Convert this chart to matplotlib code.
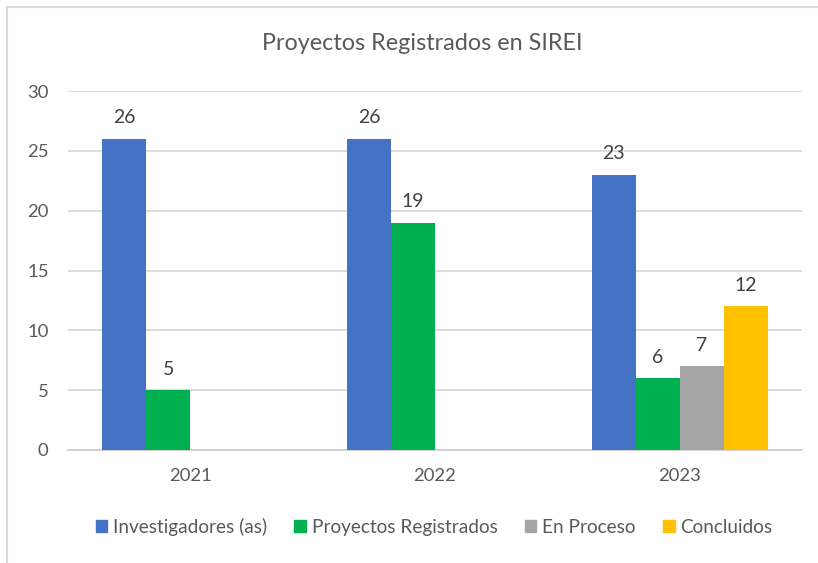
import numpy as np
import matplotlib
matplotlib.use("Agg")
import matplotlib.pyplot as plt
from matplotlib.patches import Rectangle
from matplotlib.lines import Line2D

plt.rcParams['font.family'] = ['Lato', 'DejaVu Sans']

categories = ["2021", "2022", "2023"]
series_names = ["Investigadores (as)", "Proyectos Registrados", "En Proceso", "Concluidos"]
investigadores = [26, 26, 23]
proyectos = [5, 19, 6]
en_proceso = [np.nan, np.nan, 7]
concluidos = [np.nan, np.nan, 12]
colors = ["#4472C4", "#00B050", "#A5A5A5", "#FFC000"]
yticks = [0, 5, 10, 15, 20, 25, 30]

data = [investigadores, proyectos, en_proceso, concluidos]

fig = plt.figure(figsize=(8.18, 5.63), dpi=100)
ax = fig.add_axes([68/818, 1-450/563, (802-68)/818, (450-91)/563])

x = np.arange(len(categories))
w = 0.18
offsets = [-1.5, -0.5, 0.5, 1.5]
for vals, off, col, name in zip(data, offsets, colors, series_names):
    arr = np.array(vals, dtype=float)
    bars = ax.bar(x + off*w, arr, width=w, color=col, label=name, zorder=3)
    labels = ["" if np.isnan(v) else f"{int(v)}" for v in arr]
    ax.bar_label(bars, labels=labels, padding=9, fontsize=14, color="#404040")

ax.set_xlim(-0.5, 2.5)
ax.set_ylim(0, 30)
ax.set_yticks(yticks)
ax.set_xticks(x)
ax.set_xticklabels(categories)
ax.yaxis.grid(True, color="#D9D9D9", linewidth=1.3, zorder=0)
ax.set_axisbelow(True)
for s in ["top", "right", "left"]:
    ax.spines[s].set_visible(False)
ax.spines["bottom"].set_color("#D0D0D0")
ax.spines["bottom"].set_linewidth(1.3)
ax.tick_params(axis="both", length=0, labelsize=13.3, colors="#595959")
ax.tick_params(axis="y", pad=14)
ax.tick_params(axis="x", pad=13)

fig.text(422/818, 1-44/563, "Proyectos Registrados en SIREI", ha="center", va="center",
         fontsize=16.8, color="#595959")

handles = [Rectangle((0, 0), 1, 1, color=c) for c in colors]
leg = fig.legend(handles, series_names, loc="center", bbox_to_anchor=(434/818, 1-527/563),
                 ncol=4, frameon=False, fontsize=13.7, handlelength=0.6, handleheight=0.6,
                 handletextpad=0.3, columnspacing=1.45, labelcolor="#595959")

# outer chart border (top and left visible)
fig.add_artist(Line2D([7/818, 1], [1-7/563, 1-7/563], color="#D9D9D9", lw=1.5, transform=fig.transFigure))
fig.add_artist(Line2D([7/818, 7/818], [0, 1-7/563], color="#D9D9D9", lw=1.5, transform=fig.transFigure))

fig.savefig("out.png", dpi=100)
